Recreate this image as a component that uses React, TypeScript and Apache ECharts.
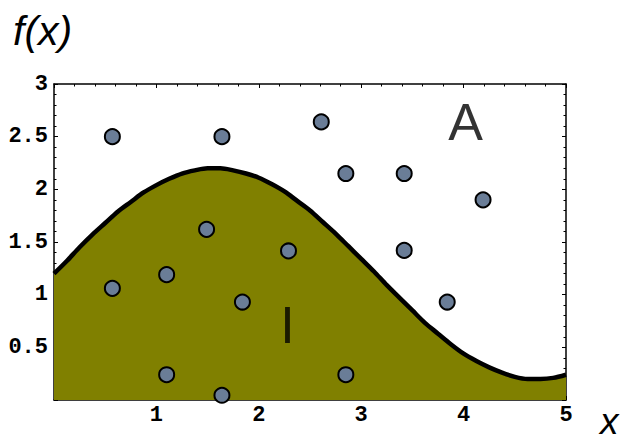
import React, { useEffect, useRef } from "react";
import * as echarts from "echarts";

// Boundary curve f(x)
const curveX = [
  0, 0.125, 0.25, 0.375, 0.5, 0.625, 0.75, 0.875, 1, 1.125, 1.25, 1.375, 1.5, 1.625, 1.75, 1.875, 2, 2.125, 2.25, 2.375,
  2.5, 2.625, 2.75, 2.875, 3, 3.125, 3.25, 3.375, 3.5, 3.625, 3.75, 3.875, 4, 4.125, 4.25, 4.375, 4.5, 4.625, 4.75, 4.875, 5,
];
const curveY = [
  1.2, 1.32, 1.45, 1.57, 1.68, 1.79, 1.88, 1.97, 2.04, 2.1, 2.15, 2.18, 2.2, 2.2, 2.18, 2.15, 2.11, 2.05, 1.98, 1.89,
  1.8, 1.69, 1.58, 1.46, 1.34, 1.22, 1.09, 0.97, 0.85, 0.73, 0.63, 0.53, 0.44, 0.37, 0.31, 0.26, 0.22, 0.2, 0.2, 0.21, 0.24,
];

// Sample points
const pointsX = [0.57, 1.64, 2.61, 2.85, 3.42, 4.19, 1.49, 2.29, 3.42, 0.57, 1.1, 1.84, 3.84, 1.1, 1.64, 2.85];
const pointsY = [2.5, 2.5, 2.64, 2.15, 2.15, 1.9, 1.62, 1.415, 1.42, 1.06, 1.19, 0.93, 0.93, 0.24, 0.045, 0.24];

// Axis ranges / ticks
const xRange = [0, 5];
const yRange = [0, 3];
const xStep = 1;
const yStep = 0.5;

const regionLabels = [
  { text: "A", x: 3.85, y: 2.395 },
  { text: "I", x: 2.21, y: 0.465 },
];

export default function App() {
  const ref = useRef<HTMLDivElement>(null);
  useEffect(() => {
    if (!ref.current) return;
    const chart = echarts.init(ref.current, null, { renderer: "svg" });
    const tickFont = {
      fontFamily: "Liberation Mono",
      fontWeight: "bold" as const,
      fontSize: 22,
      color: "#000",
    };
    const axisCommon = {
      type: "value" as const,
      splitLine: { show: false },
      axisLine: { show: true, onZero: false, lineStyle: { color: "#000", width: 1.5 } },
      axisTick: { show: true, inside: true, length: 4, lineStyle: { color: "#000", width: 1 } },
      minorTick: { show: true, splitNumber: 5, length: 2.5, lineStyle: { color: "#000", width: 1 } },
    };
    const fmt = (v: number) => (v === 0 ? "" : String(v));
    chart.setOption({
      animation: false,
      backgroundColor: "#fff",
      grid: { left: 54, right: 54, top: 84, bottom: 42, containLabel: false },
      xAxis: [
        {
          ...axisCommon,
          position: "bottom",
          min: xRange[0],
          max: xRange[1],
          interval: xStep,
          axisLabel: { ...tickFont, margin: 4, formatter: fmt },
        },
        {
          ...axisCommon,
          position: "top",
          min: xRange[0],
          max: xRange[1],
          interval: xStep,
          axisLabel: { show: false },
        },
      ],
      yAxis: [
        {
          ...axisCommon,
          position: "left",
          min: yRange[0],
          max: yRange[1],
          interval: yStep,
          axisLabel: { ...tickFont, margin: 6, formatter: fmt },
        },
        {
          ...axisCommon,
          position: "right",
          min: yRange[0],
          max: yRange[1],
          interval: yStep,
          axisLabel: { show: false },
        },
      ],
      series: [
        {
          type: "line",
          data: curveX.map((x, i) => [x, curveY[i]]),
          smooth: 0.3,
          symbol: "none",
          clip: true,
          lineStyle: { color: "#000", width: 4.5 },
          areaStyle: { color: "#808000", opacity: 1, origin: "start" },
          z: 2,
        },
        {
          type: "scatter",
          data: pointsX.map((x, i) => [x, pointsY[i]]),
          symbol: "circle",
          symbolSize: 15,
          itemStyle: { color: "#6a7d97", borderColor: "#000", borderWidth: 2, opacity: 1 },
          z: 4,
        },
        {
          type: "scatter",
          data: regionLabels.map((l) => ({ value: [l.x, l.y], name: l.text })),
          symbolSize: 0,
          label: {
            show: true,
            position: "inside",
            formatter: (p: any) => p.name,
            fontFamily: "Liberation Sans",
            fontSize: 52,
            color: "#000",
            align: "left",
            verticalAlign: "bottom",
          },
          silent: true,
          z: 5,
        },
      ],
      graphic: [
        {
          type: "text",
          left: 13,
          top: 10,
          style: {
            text: "f(x)",
            font: "italic 41px 'Liberation Sans'",
            fill: "#000",
          },
        },
        {
          type: "text",
          left: 600,
          top: 403,
          style: {
            text: "x",
            font: "italic 37px 'Liberation Sans'",
            fill: "#000",
          },
        },
      ],
    });
    return () => chart.dispose();
  }, []);
  return (
    <div
      ref={ref}
      style={{ position: "absolute", left: 0, top: 0, width: 620, height: 442 }}
    />
  );
}
